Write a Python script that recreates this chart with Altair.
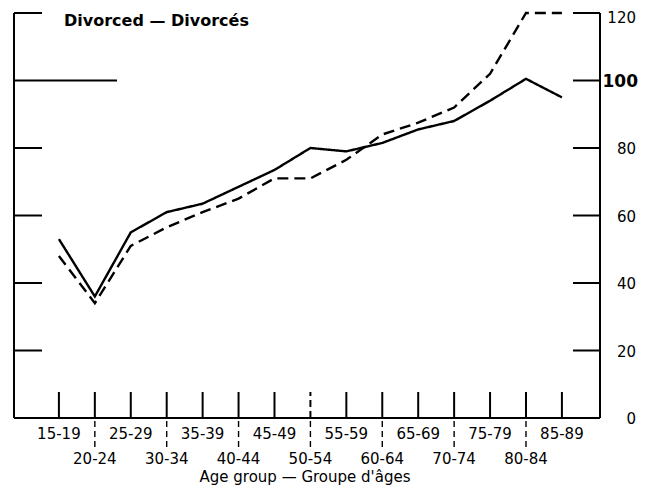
import altair as alt
import pandas as pd

# ---- data ----
age_groups = ["15-19", "20-24", "25-29", "30-34", "35-39", "40-44", "45-49", "50-54",
              "55-59", "60-64", "65-69", "70-74", "75-79", "80-84", "85-89"]
solid_values = [53, 36, 55, 61, 63.5, 68.5, 73.5, 80, 79, 81.5, 85.5, 88, 94, 100.5, 95]
dashed_values = [48, 34, 51, 56.5, 61, 65, 71, 71, 76.5, 84, 87.5, 92, 102, 120, 120]
y_tick_values = [0, 20, 40, 60, 80, 100, 120]
y_tick_labels = ["0", "20", "40", "60", "80", "100", "120"]
reference_value = 100
panel_title = "Divorced — Divorcés"
x_title = "Age group — Groupe d'âges"

# ---- layout ----
W, H = 586, 405
FONT = "DejaVu Sans"
X_MIN, X_MAX = -1.25, 15.06
xscale = alt.Scale(domain=[X_MIN, X_MAX], nice=False, zero=False)
yscale = alt.Scale(domain=[0, 120], nice=False, zero=False)


def X(field):
    return alt.X(field, type="quantitative", scale=xscale, axis=None)


def Y(field):
    return alt.Y(field, type="quantitative", scale=yscale, axis=None)


n = len(age_groups)
lines_df = pd.DataFrame({
    "idx": list(range(n)) * 2,
    "value": solid_values + dashed_values,
    "series": ["solid"] * n + ["dashed"] * n,
})
cat_df = pd.DataFrame({
    "idx": list(range(n)),
    "label": age_groups,
    "row": [i % 2 for i in range(n)],
})
ytick_df = pd.DataFrame({"v": y_tick_values, "label": y_tick_labels})
frame_df = pd.DataFrame({
    "x": [X_MIN, X_MAX, X_MIN],
    "x2": [X_MIN, X_MAX, X_MAX],
    "y": [0, 0, 0],
    "y2": [120, 120, 0],
})

lines = alt.Chart(lines_df).mark_line(color="black", strokeWidth=2.4).encode(
    x=X("idx"),
    y=Y("value"),
    strokeDash=alt.StrokeDash("series:N",
                              scale=alt.Scale(domain=["solid", "dashed"], range=[[1, 0], [11, 6]]),
                              legend=None),
    detail="series:N",
)

frame = alt.Chart(frame_df).mark_rule(color="black", strokeWidth=2).encode(
    x=X("x"), x2="x2", y=Y("y"), y2="y2"
)

left_ticks = alt.Chart(ytick_df).transform_filter(
    f"datum.v > 0 && datum.v != {reference_value}"
).mark_rule(color="black", strokeWidth=2).encode(
    y=Y("v"), x=alt.value(0), x2=alt.value(28)
)

ref_line = alt.Chart(ytick_df).transform_filter(
    f"datum.v == {reference_value}"
).mark_rule(color="black", strokeWidth=2).encode(
    y=Y("v"), x=alt.value(0), x2=alt.value(103)
)

right_ticks = alt.Chart(ytick_df).transform_filter("datum.v > 0").mark_rule(
    color="black", strokeWidth=2
).encode(y=Y("v"), x=alt.value(W - 27), x2=alt.value(W))

right_labels = alt.Chart(ytick_df).transform_filter(
    f"datum.v != {reference_value} && datum.v < 120"
).mark_text(font=FONT, fontSize=15, align="right", baseline="middle", dy=1, color="black").encode(
    y=Y("v"), x=alt.value(W + 36), text="label:N"
)

right_label_top = alt.Chart(ytick_df).transform_filter(
    "datum.v == 120"
).mark_text(font=FONT, fontSize=15, align="right", baseline="middle", dy=5, color="black").encode(
    y=Y("v"), x=alt.value(W + 36), text="label:N"
)

right_label_bold = alt.Chart(ytick_df).transform_filter(
    f"datum.v == {reference_value}"
).mark_text(font=FONT, fontSize=17, fontWeight="bold", align="right", baseline="middle",
            dy=1, color="black").encode(
    y=Y("v"), x=alt.value(W + 38), text="label:N"
)

inner_ticks = alt.Chart(cat_df).transform_filter("datum.idx != 7").mark_rule(
    color="black", strokeWidth=2
).encode(x=X("idx"), y=alt.value(H), y2=alt.value(H - 26))

inner_tick_dashed = alt.Chart(cat_df).transform_filter("datum.idx == 7").mark_rule(
    color="black", strokeWidth=2, strokeDash=[7, 4]
).encode(x=X("idx"), y=alt.value(H), y2=alt.value(H - 26))

separators = alt.Chart(cat_df).transform_filter("datum.row == 1").mark_rule(
    color="black", strokeWidth=1.4, strokeDash=[6, 4]
).encode(x=X("idx"), y=alt.value(H + 3), y2=alt.value(H + 31))

labels_row1 = alt.Chart(cat_df).transform_filter("datum.row == 0").mark_text(
    font=FONT, fontSize=15, align="center", baseline="alphabetic", color="black"
).encode(x=X("idx"), y=alt.value(H + 21), text="label:N")

labels_row2 = alt.Chart(cat_df).transform_filter("datum.row == 1").mark_text(
    font=FONT, fontSize=15, align="center", baseline="alphabetic", color="black"
).encode(x=X("idx"), y=alt.value(H + 46), text="label:N")

title_df = pd.DataFrame({"t": [panel_title], "xt": [x_title]})

panel_title_mark = alt.Chart(title_df).mark_text(
    font=FONT, fontSize=16, fontWeight="bold", align="left", baseline="alphabetic", color="black"
).encode(x=alt.value(50), y=alt.value(13), text="t:N")

x_title_mark = alt.Chart(title_df).mark_text(
    font=FONT, fontSize=15, align="center", baseline="alphabetic", color="black"
).encode(x=alt.value(291), y=alt.value(H + 64), text="xt:N")

chart = alt.layer(
    frame, left_ticks, ref_line, right_ticks, inner_ticks, inner_tick_dashed, separators,
    lines, right_labels, right_label_top, right_label_bold, labels_row1, labels_row2,
    panel_title_mark, x_title_mark,
).properties(
    width=W,
    height=H,
    padding={"left": 6, "top": 5, "right": 46, "bottom": 68},
    autosize=alt.AutoSizeParams(type="none"),
    background="white",
).configure_view(stroke=None)

chart.save("out.html", embed_options={"renderer": "svg", "actions": False})
